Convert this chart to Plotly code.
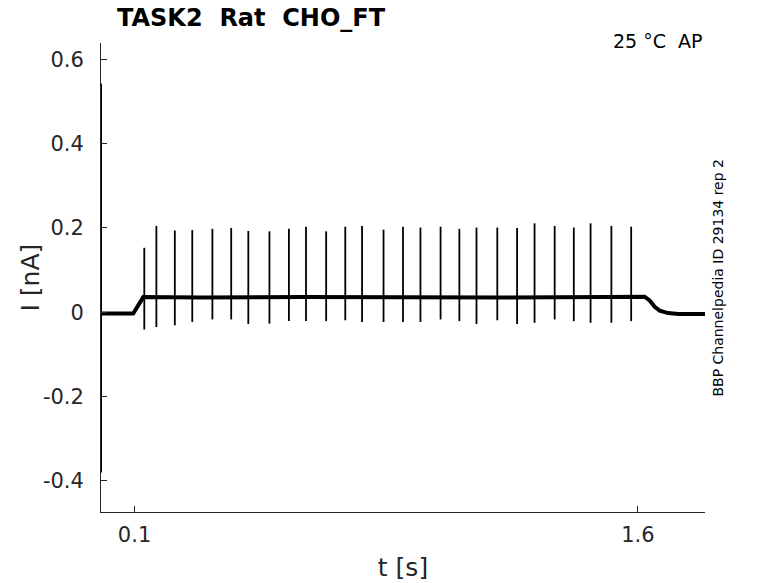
import plotly.graph_objects as go

# spike times [s], peak and trough currents [nA]
spike_t = [0.129, 0.165, 0.220, 0.272, 0.332, 0.388, 0.439, 0.502, 0.560,
           0.611, 0.671, 0.728, 0.778, 0.842, 0.900, 0.952, 1.012, 1.068,
           1.119, 1.181, 1.240, 1.292, 1.352, 1.409, 1.459, 1.521, 1.580]
spike_peak = [0.153, 0.205, 0.194, 0.195, 0.198, 0.200, 0.193, 0.192, 0.198,
              0.203, 0.192, 0.203, 0.205, 0.196, 0.203, 0.201, 0.203, 0.198,
              0.201, 0.201, 0.200, 0.211, 0.205, 0.201, 0.211, 0.205, 0.203]
spike_trough = [-0.041, -0.035, -0.031, -0.023, -0.017, -0.017, -0.028, -0.027, -0.021,
                -0.021, -0.021, -0.019, -0.023, -0.023, -0.023, -0.023, -0.017, -0.021,
                -0.028, -0.019, -0.028, -0.025, -0.017, -0.021, -0.025, -0.025, -0.021]

# holding current outside the spikes
base_t = [0.0, 0.096, 0.126, 0.30, 0.60, 0.90, 1.20, 1.50, 1.62,
          1.635, 1.65, 1.665, 1.69, 1.72, 1.80]
base_i = [-0.003, -0.003, 0.036, 0.035, 0.036, 0.035, 0.035, 0.036, 0.037,
          0.028, 0.013, 0.004, -0.002, -0.004, -0.004]

# capacitive transient at the start of the sweep
trans_t = [0.0, 0.0]
trans_i = [0.543, -0.380]

x_ticks = [0.1, 1.6]
y_ticks = [-0.4, -0.2, 0, 0.2, 0.4, 0.6]
y_labels = ["-0.4", "-0.2", "0", "0.2", "0.4", "0.6"]

spk_x, spk_y = [], []
for t, hi, lo in zip(spike_t, spike_peak, spike_trough):
    spk_x += [t, t, None]
    spk_y += [lo, hi, None]

font = "DejaVu Sans"
txt = "#262626"

fig = go.Figure()
fig.add_trace(go.Scatter(x=base_t, y=base_i, mode="lines",
                         line=dict(color="black", width=4), hoverinfo="skip"))
fig.add_trace(go.Scatter(x=spk_x, y=spk_y, mode="lines",
                         line=dict(color="black", width=1.8), hoverinfo="skip"))
fig.add_trace(go.Scatter(x=trans_t, y=trans_i, mode="lines",
                         line=dict(color="black", width=2), hoverinfo="skip"))

fig.update_layout(
    width=778, height=583,
    margin=dict(l=101, r=73, t=43, b=71),
    paper_bgcolor="white", plot_bgcolor="white",
    showlegend=False,
    font=dict(family=font, color=txt),
    xaxis=dict(range=[0.0, 1.8], tickvals=x_ticks, ticktext=["0.1", "1.6"],
               ticks="inside", ticklen=6, tickcolor=txt, tickwidth=0.8,
               showline=True, linecolor=txt, linewidth=0.8,
               showgrid=False, zeroline=False, tickfont=dict(size=21),
               ticklabelstandoff=4, automargin=False,
               title=dict(text="t [s]", font=dict(size=25), standoff=12)),
    yaxis=dict(range=[-0.474, 0.639], tickvals=y_ticks, ticktext=y_labels,
               ticks="inside", ticklen=6, tickcolor=txt, tickwidth=0.8,
               showline=True, linecolor=txt, linewidth=0.8,
               showgrid=False, zeroline=False, tickfont=dict(size=21),
               ticklabelstandoff=12, automargin=False),
    annotations=[
        dict(text="I [nA]", xref="paper", yref="paper",
             x=-0.1175, y=0.5, xanchor="center", yanchor="middle", textangle=-90,
             showarrow=False, font=dict(size=25, color=txt)),
        dict(text="<b>TASK2  Rat  CHO_FT</b>", xref="paper", yref="paper",
             x=0.023, y=1.053, xanchor="left", yanchor="middle",
             showarrow=False, font=dict(size=24, color="black")),
        dict(text="25 °C  AP", xref="paper", yref="paper",
             x=1.0, y=1.004, xanchor="right", yanchor="middle",
             showarrow=False, font=dict(size=19, color="black")),
        dict(text="BBP Channelpedia ID 29134 rep 2", xref="paper", yref="paper",
             x=1.02, y=0.5, xanchor="center", yanchor="middle", textangle=-90,
             showarrow=False, font=dict(size=14, color="black")),
    ],
)

# drop the default 8px body margin so the figure sits at the window corner
fig.write_html("out.html", config={"displayModeBar": False},
               post_script="document.body.style.margin='0';")
